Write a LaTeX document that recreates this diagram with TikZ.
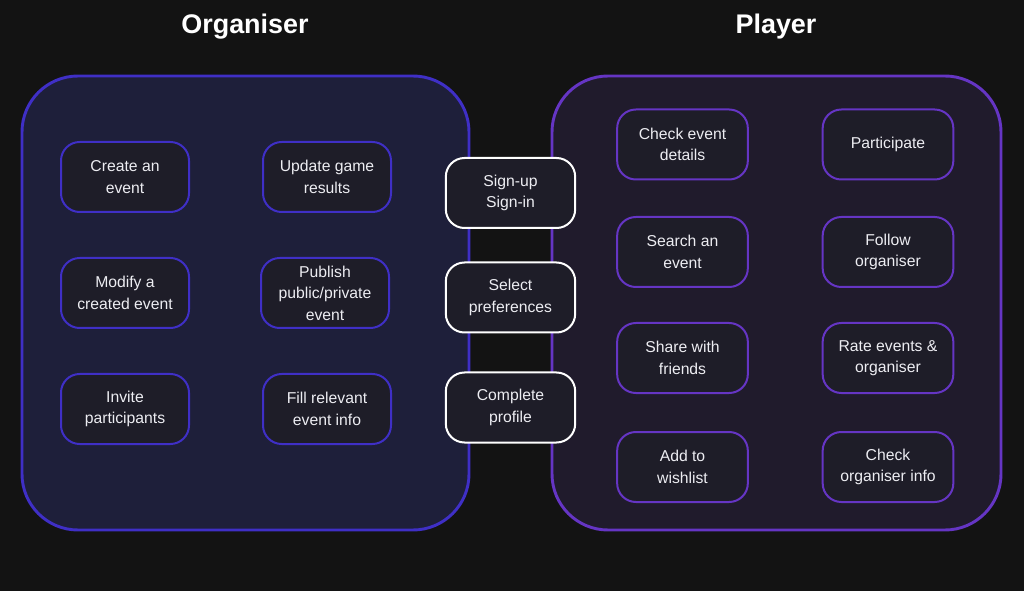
\documentclass[tikz,border=0pt]{standalone}
\usepackage{fontspec}
\setmainfont{Liberation Sans}
\definecolor{bgc}{HTML}{131313}
\definecolor{lfill}{HTML}{1E1F3A}
\definecolor{lborder}{HTML}{3F2FC6}
\definecolor{rfill}{HTML}{201B2C}
\definecolor{rborder}{HTML}{6535C4}
\definecolor{nfill}{HTML}{1E1D28}
\definecolor{txt}{HTML}{EDEDF2}
\tikzset{
  panel/.style={line width=2.2pt, rounded corners=42pt},
  item/.style={rectangle, rounded corners=14pt, line width=1.5pt, fill=nfill,
    minimum width=96pt, minimum height=52.5pt, text=txt, align=center, inner sep=2pt,
    font=\fontsize{11.8pt}{16.2pt}\selectfont},
  litem/.style={item, draw=lborder},
  ritem/.style={item, draw=rborder, minimum width=98pt},
  mitem/.style={item, draw=white, minimum width=97pt},
  title/.style={text=white, font=\fontsize{20.2pt}{24pt}\selectfont\bfseries}
}
\begin{document}
\begin{tikzpicture}[x=0.75pt,y=-0.75pt]
\fill[bgc] (0,0) rectangle (1024,591);
\useasboundingbox (0,0) rectangle (1024,591);
\node[title] (t1) at (245,27) {Organiser};
\node[title] (t2) at (776,27) {Player};
\draw[panel, fill=lfill, draw=lborder] (22,76) rectangle (469,530);
\draw[panel, fill=rfill, draw=rborder] (552,76) rectangle (1001,530);
% left
\node[litem] (a1) at (125,177) {Create an\\event};
\node[litem] (a2) at (327,177) {Update game\\results};
\node[litem] (a3) at (125,293) {Modify a\\created event};
\node[litem] (a4) at (325,293) {Publish\\public/private\\event};
\node[litem] (a5) at (125,409) {Invite\\participants};
\node[litem] (a6) at (327,409) {Fill relevant\\event info};
% middle
\node[mitem] (m1) at (510.5,193) {Sign-up\\Sign-in};
\node[mitem] (m2) at (510.5,297.5) {Select\\preferences};
\node[mitem] (m3) at (510.5,407.5) {Complete\\profile};
% right
\node[ritem] (b1) at (682.5,144.5) {Check event\\details};
\node[ritem] (b2) at (888,144.5) {Participate};
\node[ritem] (b3) at (682.5,252) {Search an\\event};
\node[ritem] (b4) at (888,252) {Follow\\organiser};
\node[ritem] (b5) at (682.5,358) {Share with\\friends};
\node[ritem] (b6) at (888,358) {Rate events \&\\organiser};
\node[ritem] (b7) at (682.5,467) {Add to\\wishlist};
\node[ritem] (b8) at (888,467) {Check\\organiser info};
\end{tikzpicture}
\end{document}
